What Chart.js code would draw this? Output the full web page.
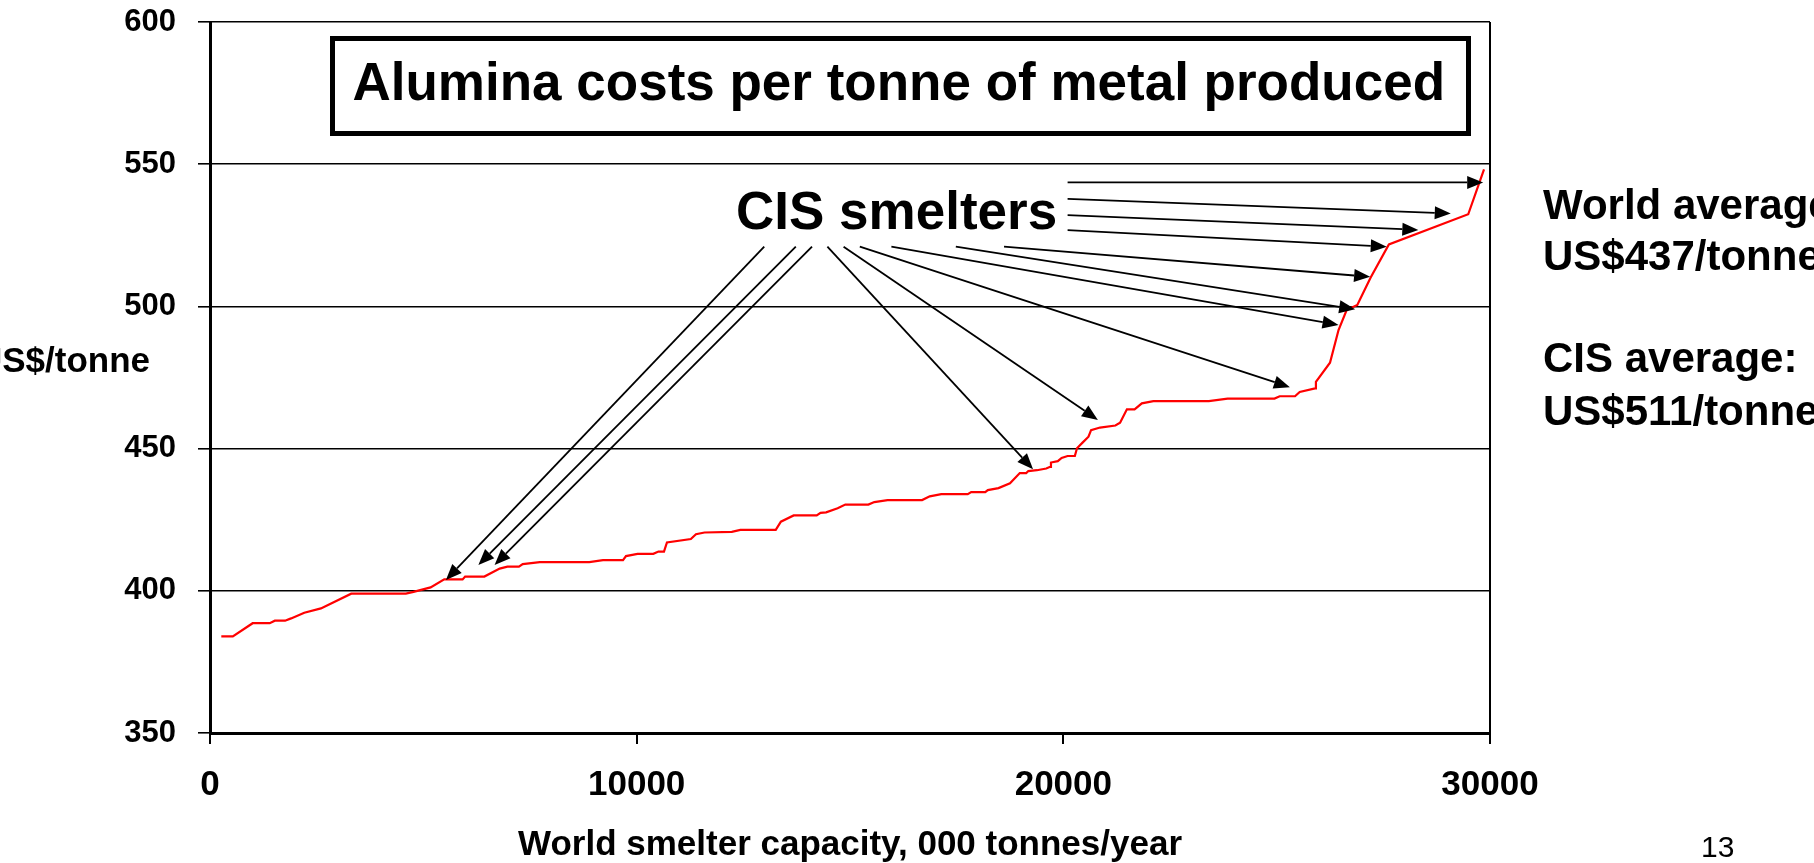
<!DOCTYPE html>
<html>
<head>
<meta charset="utf-8">
<title>Alumina costs per tonne of metal produced</title>
<script src="https://cdn.jsdelivr.net/npm/chart.js@4.4.1/dist/chart.umd.min.js"></script>
<style>
    html, body { margin: 0; padding: 0; background: #fff; overflow: hidden; }
    canvas { display: block; }
</style>
</head>
<body>
<canvas id="costChart" width="1814" height="863"></canvas>
<script>
// Curva de custo: capacidade acumulada (000 t/ano) x custo de alumina (US$/t)
const capacity = [
    265, 535, 1000, 1400, 1520, 1760, 1900, 2210, 2600, 3310,
    4590, 4770, 5170, 5490, 5920, 5980, 6430, 6790, 6970, 7240,
    7330, 7730, 8890, 9210, 9680, 9750, 10020, 10390, 10510, 10640,
    10710, 11270, 11390, 11590, 12230, 12430, 13260, 13380, 13680, 14220,
    14310, 14440, 14710, 14890, 15430, 15570, 15880, 16690, 16870, 17140,
    17760, 17840, 18170, 18230, 18480, 18750, 18980, 19130, 19180, 19380,
    19600, 19690, 19710, 19870, 19960, 20100, 20270, 20320, 20450, 20590,
    20650, 20860, 21220, 21330, 21490, 21670, 21840, 22110, 23410, 23850,
    24950, 25070, 25430, 25540, 25900, 25920, 26250, 26450, 26640, 26890,
    27200, 27630, 29490, 29860
];
const cost = [
    384, 384, 388.6, 388.6, 389.5, 389.5, 390.3, 392.3, 393.8, 399,
    399, 399.6, 401.2, 404, 404, 405, 405, 407.8, 408.5, 408.5,
    409.4, 410.1, 410.1, 410.8, 410.8, 412.2, 413, 413, 413.8, 413.8,
    417, 418.2, 419.9, 420.5, 420.7, 421.4, 421.4, 424.3, 426.5, 426.5,
    427.4, 427.6, 429, 430.3, 430.3, 431.2, 431.9, 431.9, 433.2, 434,
    434, 434.7, 434.7, 435.4, 436.1, 437.8, 441.4, 441.4, 442.1, 442.4,
    443, 443.6, 445.1, 445.6, 446.7, 447.4, 447.4, 450.1, 452.1, 454.2,
    456.5, 457.4, 458.1, 459.1, 463.8, 463.8, 465.9, 466.7, 466.7, 467.6,
    467.6, 468.4, 468.4, 469.9, 471.2, 473.5, 480.2, 491.7, 498.7, 500.5,
    510.1, 521.8, 532.4, 548.2
];

// Setas "CIS smelters": origem e ponta em unidades do gráfico
const arrowFromX = [12990, 13730, 14110, 14470, 14850, 15230, 15970, 17480, 18610, 20100, 20100, 20100, 20100];
const arrowFromY = [521, 521, 521, 521, 521, 521, 521, 521, 521, 543.6, 537.8, 532.1, 526.8];
const arrowToX = [5530, 6290, 6670, 19290, 20810, 25310, 26450, 26840, 27190, 29840, 29080, 28320, 27580];
const arrowToY = [403.8, 409.1, 409.1, 442.7, 460.1, 471.6, 493.5, 499, 510.4, 543.6, 532.7, 526.9, 521];

const xTicks = [0, 10000, 20000, 30000];
const yTicks = [350, 400, 450, 500, 550, 600];

const chartTitle = 'Alumina costs per tonne of metal produced';
const calloutLabel = 'CIS smelters';
const sideNotes = ['World average:', 'US$437/tonne', 'CIS average:', 'US$511/tonne'];
const yAxisLabel = 'US$/tonne';
const xAxisLabel = 'World smelter capacity, 000 tonnes/year';
const pageNumber = '13';

const FONT = '"Liberation Sans", Arial, Helvetica, sans-serif';

const drawArrow = (ctx, x1, y1, x2, y2) => {
    const ang = Math.atan2(y2 - y1, x2 - x1);
    const len = 16, hw = 6.5;
    const bx = x2 - len * Math.cos(ang);
    const by = y2 - len * Math.sin(ang);
    ctx.beginPath();
    ctx.moveTo(x1, y1);
    ctx.lineTo(bx, by);
    ctx.stroke();
    ctx.beginPath();
    ctx.moveTo(x2, y2);
    ctx.lineTo(bx - hw * Math.sin(ang), by + hw * Math.cos(ang));
    ctx.lineTo(bx + hw * Math.sin(ang), by - hw * Math.cos(ang));
    ctx.closePath();
    ctx.fill();
};

// Plugin com as anotações do slide (caixa do título, setas e textos laterais)
const slideAnnotations = {
    id: 'slideAnnotations',
    afterDatasetsDraw(chart) {
        const { ctx, chartArea: area, scales: { x, y } } = chart;
        ctx.save();

        // setas
        ctx.strokeStyle = '#000';
        ctx.fillStyle = '#000';
        ctx.lineWidth = 1.8;
        arrowFromX.forEach((fx, i) => {
            drawArrow(ctx,
                x.getPixelForValue(fx), y.getPixelForValue(arrowFromY[i]),
                x.getPixelForValue(arrowToX[i]), y.getPixelForValue(arrowToY[i]));
        });

        // caixa do título
        const boxL = area.left + 122.5, boxT = area.top + 16.5;
        ctx.fillStyle = '#fff';
        ctx.fillRect(boxL, boxT, 1136, 95);
        ctx.lineWidth = 5;
        ctx.strokeRect(boxL, boxT, 1136, 95);
        ctx.fillStyle = '#000';
        ctx.textAlign = 'left';
        ctx.textBaseline = 'alphabetic';
        ctx.font = `bold 53px ${FONT}`;
        ctx.fillText(chartTitle, area.left + 142.5, area.top + 78);

        // "CIS smelters"
        ctx.fillText(calloutLabel, area.left + 526, area.top + 207);

        // textos à direita
        ctx.font = `bold 42px ${FONT}`;
        const notesX = area.right + 53;
        const notesY = [219, 270, 372, 425];
        sideNotes.forEach((t, i) => ctx.fillText(t, notesX, notesY[i]));

        // rótulo do eixo Y (horizontal, cortado na borda)
        ctx.font = `bold 35px ${FONT}`;
        ctx.textAlign = 'right';
        ctx.fillText(yAxisLabel, 150, 372);

        // número da página
        ctx.font = `30px ${FONT}`;
        ctx.textAlign = 'left';
        ctx.fillText(pageNumber, 1701, 857);

        ctx.restore();
    }
};

new Chart(document.getElementById('costChart'), {
    type: 'line',
    data: {
        datasets: [{
            data: capacity.map((c, i) => ({ x: c, y: cost[i] })),
            borderColor: '#ff0000',
            borderWidth: 2.2,
            pointRadius: 0,
            tension: 0,
            fill: false
        }]
    },
    options: {
        responsive: false,
        animation: false,
        layout: { padding: { left: 0, right: 324, top: 22, bottom: 0 } },
        plugins: { legend: { display: false }, tooltip: { enabled: false } },
        scales: {
            x: {
                type: 'linear',
                min: 0,
                max: 30000,
                afterBuildTicks: (scale) => { scale.ticks = xTicks.map(v => ({ value: v })); },
                afterFit: (scale) => { scale.height = 130; },
                ticks: {
                    font: { family: FONT, size: 35, weight: 'bold' },
                    color: '#000',
                    padding: 20,
                    maxRotation: 0,
                    autoSkip: false,
                    callback: (v) => String(v)
                },
                grid: {
                    color: (c) => (c.tick && c.tick.value === 30000 ? '#000' : 'rgba(0,0,0,0)'),
                    tickColor: '#000',
                    lineWidth: 2,
                    tickLength: 11
                },
                border: { color: '#000', width: 3 },
                title: {
                    display: true,
                    text: xAxisLabel,
                    color: '#000',
                    font: { family: FONT, size: 35, weight: 'bold', lineHeight: 1 },
                    padding: { top: 0, bottom: 0 }
                }
            },
            y: {
                min: 350,
                max: 600,
                afterBuildTicks: (scale) => { scale.ticks = yTicks.map(v => ({ value: v })); },
                afterFit: (scale) => {
                    scale.width = 210;
                    scale.paddingTop = 0;
                    scale.paddingBottom = 0;
                },
                ticks: { font: { family: FONT, size: 31, weight: 'bold' }, color: '#000', padding: 22 },
                grid: { color: '#000', tickColor: '#000', lineWidth: 1.6, tickLength: 12 },
                border: { color: '#000', width: 3 }
            }
        }
    },
    plugins: [slideAnnotations]
});
</script>
</body>
</html>
